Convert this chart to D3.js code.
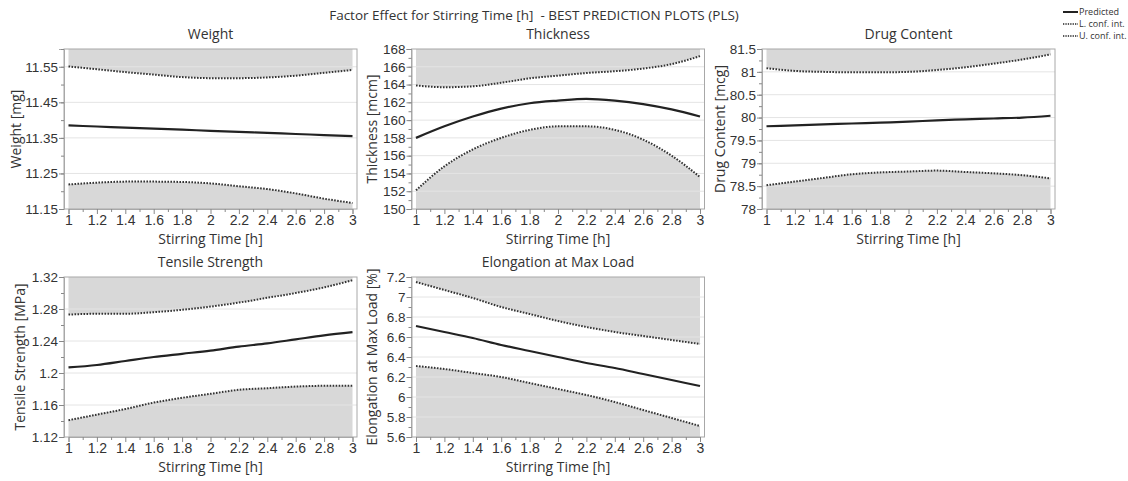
<!DOCTYPE html>
<html>
<head>
<meta charset="utf-8">
<script src="https://cdn.jsdelivr.net/npm/d3@7"></script>
<style>
  body { margin: 0; background: #fff; }
  svg { display: block; font-family: "Open Sans", "Noto Sans", sans-serif; }
</style>
</head>
<body>
<div id="chart"></div>
<script>
// Data
const stirTime = [1, 1.2, 1.4, 1.6, 1.8, 2, 2.2, 2.4, 2.6, 2.8, 3];
const xTicks = [1, 1.2, 1.4, 1.6, 1.8, 2, 2.2, 2.4, 2.6, 2.8, 3];

const weightPred  = [11.385, 11.382, 11.379, 11.376, 11.373, 11.370, 11.367, 11.364, 11.361, 11.358, 11.355];
const weightLower = [11.219, 11.224, 11.227, 11.227, 11.226, 11.222, 11.214, 11.206, 11.194, 11.179, 11.167];
const weightUpper = [11.551, 11.543, 11.535, 11.528, 11.521, 11.518, 11.518, 11.520, 11.525, 11.533, 11.541];
const weightTicks = [11.15, 11.25, 11.35, 11.45, 11.55];

const thickPred  = [158.0, 159.3, 160.4, 161.3, 161.9, 162.2, 162.4, 162.2, 161.8, 161.2, 160.4];
const thickLower = [152.1, 154.8, 156.7, 158.0, 158.9, 159.3, 159.3, 158.9, 157.8, 156.0, 153.6];
const thickUpper = [163.9, 163.7, 163.8, 164.2, 164.7, 165.0, 165.3, 165.5, 165.8, 166.3, 167.2];
const thickTicks = [150, 152, 154, 156, 158, 160, 162, 164, 166, 168];

const drugPred  = [79.81, 79.83, 79.85, 79.87, 79.89, 79.91, 79.94, 79.96, 79.98, 80.00, 80.04];
const drugLower = [78.52, 78.60, 78.68, 78.76, 78.80, 78.82, 78.84, 78.81, 78.78, 78.74, 78.67];
const drugUpper = [81.08, 81.02, 81.00, 80.99, 80.99, 81.00, 81.04, 81.10, 81.18, 81.27, 81.38];
const drugTicks = [78, 78.5, 79, 79.5, 80, 80.5, 81, 81.5];

const tensPred  = [1.207, 1.210, 1.215, 1.220, 1.224, 1.228, 1.233, 1.237, 1.242, 1.247, 1.251];
const tensLower = [1.141, 1.148, 1.155, 1.163, 1.169, 1.174, 1.179, 1.181, 1.183, 1.184, 1.184];
const tensUpper = [1.273, 1.274, 1.274, 1.276, 1.279, 1.283, 1.288, 1.294, 1.300, 1.307, 1.316];
const tensTicks = [1.12, 1.16, 1.2, 1.24, 1.28, 1.32];

const elongPred  = [6.71, 6.65, 6.59, 6.52, 6.46, 6.40, 6.34, 6.29, 6.23, 6.17, 6.11];
const elongLower = [6.31, 6.28, 6.24, 6.20, 6.14, 6.08, 6.02, 5.95, 5.87, 5.79, 5.71];
const elongUpper = [7.15, 7.07, 6.99, 6.90, 6.83, 6.76, 6.70, 6.65, 6.61, 6.57, 6.53];
const elongTicks = [5.6, 5.8, 6, 6.2, 6.4, 6.6, 6.8, 7, 7.2];

const panels = [
    { title: "Weight", yLabel: "Weight [mg]", pred: weightPred, lower: weightLower, upper: weightUpper,
      ticks: weightTicks, domain: [11.15, 11.60], minor: 0.05, left: 64, top: 49, labelOff: 47.5 },
    { title: "Thickness", yLabel: "Thickness [mcm]", pred: thickPred, lower: thickLower, upper: thickUpper,
      ticks: thickTicks, domain: [150, 168], minor: 1, left: 411.5, top: 49, labelOff: 39 },
    { title: "Drug Content", yLabel: "Drug Content [mcg]", pred: drugPred, lower: drugLower, upper: drugUpper,
      ticks: drugTicks, domain: [78, 81.5], minor: 0.25, left: 762, top: 49, labelOff: 41.5 },
    { title: "Tensile Strength", yLabel: "Tensile Strength [MPa]", pred: tensPred, lower: tensLower, upper: tensUpper,
      ticks: tensTicks, domain: [1.12, 1.32], minor: 0.02, left: 64, top: 277, labelOff: 43.5 },
    { title: "Elongation at Max Load", yLabel: "Elongation at Max Load [%]", pred: elongPred, lower: elongLower, upper: elongUpper,
      ticks: elongTicks, domain: [5.6, 7.2], minor: 0.1, left: 411.5, top: 277, labelOff: 39 }
];

const width = 1128, height = 481;
const frameW = 293, frameH = 160, pad = 4.5;
const fillColor = "#d8d8d8";
const fmt = d => String(+d.toFixed(3));

const svg = d3.select("#chart").append("svg")
    .attr("width", width)
    .attr("height", height);

svg.append("text")
    .attr("x", 534).attr("y", 20)
    .attr("text-anchor", "middle")
    .attr("font-size", 13.5)
    .attr("fill", "#333")
    .style("white-space", "pre")
    .text("Factor Effect for Stirring Time [h]  - BEST PREDICTION PLOTS (PLS)");

const renderPanel = (p) => {
    const g = svg.append("g").attr("transform", `translate(${p.left},${p.top})`);

    const x = d3.scaleLinear().domain([1, 3]).range([pad, frameW - pad]);
    const y = d3.scaleLinear().domain(p.domain).range([frameH, 0]);

    const data = stirTime.map((t, i) => ({ t, pred: p.pred[i], lower: p.lower[i], upper: p.upper[i] }));

    // shaded regions outside the confidence band
    g.append("path")
        .datum(data)
        .attr("fill", fillColor)
        .attr("d", d3.area().x(d => x(d.t)).y0(y(p.domain[1])).y1(d => y(d.upper)));
    g.append("path")
        .datum(data)
        .attr("fill", fillColor)
        .attr("d", d3.area().x(d => x(d.t)).y0(y(p.domain[0])).y1(d => y(d.lower)));

    // gridlines
    g.append("g")
        .selectAll("line")
        .data(p.ticks.filter(v => v > p.domain[0] && v < p.domain[1]))
        .join("line")
        .attr("x1", 0).attr("x2", frameW)
        .attr("y1", d => y(d)).attr("y2", d => y(d))
        .attr("stroke", "#e4e4e4")
        .attr("stroke-width", 1);

    // frame
    g.append("rect")
        .attr("x", 0).attr("y", 0)
        .attr("width", frameW).attr("height", frameH)
        .attr("fill", "none")
        .attr("stroke", "#a8a8a8");

    // curves
    const line = key => d3.line().x(d => x(d.t)).y(d => y(d[key])).curve(d3.curveMonotoneX);
    g.append("path").datum(data)
        .attr("fill", "none").attr("stroke", "#222").attr("stroke-width", 2.2)
        .attr("d", line("pred"));
    ["lower", "upper"].forEach(k => {
        g.append("path").datum(data)
            .attr("fill", "none").attr("stroke", "#333").attr("stroke-width", 2)
            .attr("stroke-dasharray", "1.6,1.4")
            .attr("d", line(k));
    });

    // y axis
    const minorY = d3.range(p.domain[0], p.domain[1] + 1e-9, p.minor).map(v => +v.toFixed(4));
    const yAxis = g.append("g")
        .call(d3.axisLeft(y).tickValues(p.ticks).tickFormat(fmt).tickSize(5).tickPadding(1))
        .attr("color", "#888");
    yAxis.select(".domain").attr("stroke", "#a8a8a8");
    yAxis.selectAll("text").attr("fill", "#333").attr("font-size", 13.5);
    g.append("g")
        .call(d3.axisLeft(y).tickValues(minorY).tickFormat("").tickSize(3))
        .attr("color", "#888")
        .call(s => s.select(".domain").remove());

    // x axis
    const xAxis = g.append("g")
        .attr("transform", `translate(0,${frameH})`)
        .call(d3.axisBottom(x).tickValues(xTicks).tickFormat(fmt).tickSize(5).tickPadding(1))
        .attr("color", "#888");
    xAxis.select(".domain").attr("stroke", "#a8a8a8");
    xAxis.selectAll("text").attr("fill", "#333").attr("font-size", 14);
    const minorX = d3.range(1.1, 3, 0.2).map(v => +v.toFixed(2));
    g.append("g")
        .attr("transform", `translate(0,${frameH})`)
        .call(d3.axisBottom(x).tickValues(minorX).tickFormat("").tickSize(3))
        .attr("color", "#888")
        .call(s => s.select(".domain").remove());

    // labels
    g.append("text")
        .attr("x", frameW / 2).attr("y", -10)
        .attr("text-anchor", "middle")
        .attr("font-size", 14).attr("fill", "#333")
        .text(p.title);
    g.append("text")
        .attr("x", frameW / 2).attr("y", frameH + 35)
        .attr("text-anchor", "middle")
        .attr("font-size", 14).attr("fill", "#333")
        .text("Stirring Time [h]");
    g.append("text")
        .attr("transform", `translate(${-p.labelOff},${frameH / 2}) rotate(-90)`)
        .attr("dy", "0.35em")
        .attr("text-anchor", "middle")
        .attr("font-size", 14).attr("fill", "#333")
        .text(p.yLabel);
};

panels.forEach(renderPanel);

// legend
const legendItems = [
    { label: "Predicted", dash: null },
    { label: "L. conf. int.", dash: "1.3,1.1" },
    { label: "U. conf. int.", dash: "1.3,1.1" }
];
const legend = svg.append("g").attr("transform", "translate(1063,12)");
legendItems.forEach((d, i) => {
    legend.append("line")
        .attr("x1", 0).attr("x2", 15)
        .attr("y1", i * 12).attr("y2", i * 12)
        .attr("stroke", "#222")
        .attr("stroke-width", d.dash ? 1.6 : 2)
        .attr("stroke-dasharray", d.dash);
    legend.append("text")
        .attr("x", 16).attr("y", i * 12 + 3)
        .attr("font-size", 9).attr("fill", "#333")
        .text(d.label);
});
</script>
</body>
</html>
